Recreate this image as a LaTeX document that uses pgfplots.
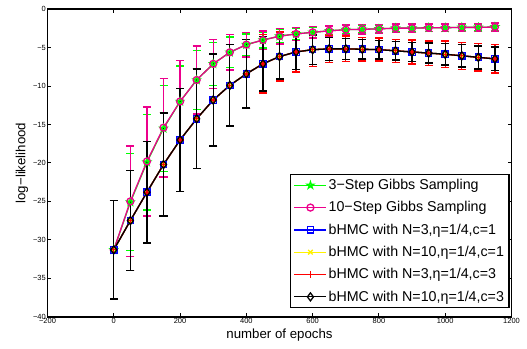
\documentclass[border=0pt]{standalone}
\usepackage{pgfplots}
\pgfplotsset{compat=1.18}
\usepackage{pgfplotstable}
\usepackage{fontspec}
\setmainfont{Liberation Sans}

\pgfdeclareplotmark{pentagram}{%
 \pgfpathmoveto{\pgfpointpolar{90}{\pgfplotmarksize}}%
 \pgfpathlineto{\pgfpointpolar{126}{0.382\pgfplotmarksize}}%
 \pgfpathlineto{\pgfpointpolar{162}{\pgfplotmarksize}}%
 \pgfpathlineto{\pgfpointpolar{198}{0.382\pgfplotmarksize}}%
 \pgfpathlineto{\pgfpointpolar{234}{\pgfplotmarksize}}%
 \pgfpathlineto{\pgfpointpolar{270}{0.382\pgfplotmarksize}}%
 \pgfpathlineto{\pgfpointpolar{306}{\pgfplotmarksize}}%
 \pgfpathlineto{\pgfpointpolar{342}{0.382\pgfplotmarksize}}%
 \pgfpathlineto{\pgfpointpolar{18}{\pgfplotmarksize}}%
 \pgfpathlineto{\pgfpointpolar{54}{0.382\pgfplotmarksize}}%
 \pgfpathclose
 \pgfusepathqstroke
}

\pgfplotstableread{
x g3 g3e g10 g10e
0 -31.3 0 -31.3 0
50 -25.1 6.3 -25.0 7.2
100 -19.9 6.2 -19.8 7.1
150 -15.5 5.6 -15.4 6.4
200 -12.0 4.6 -12.0 5.3
250 -9.2 3.8 -9.2 4.4
300 -7.1 2.8 -7.1 3.2
350 -5.6 2.0 -5.6 2.3
400 -4.6 1.4 -4.6 1.6
450 -4.0 1.05 -4.0 1.2
500 -3.5 0.9 -3.5 1.0
550 -3.2 0.75 -3.2 0.85
600 -3.0 0.65 -3.0 0.75
650 -2.8 0.6 -2.8 0.65
700 -2.65 0.55 -2.65 0.6
750 -2.6 0.5 -2.6 0.6
800 -2.55 0.5 -2.55 0.55
850 -2.45 0.5 -2.45 0.55
900 -2.45 0.45 -2.45 0.55
950 -2.4 0.45 -2.4 0.5
1000 -2.4 0.45 -2.4 0.5
1050 -2.35 0.45 -2.35 0.5
1100 -2.35 0.45 -2.35 0.5
1150 -2.3 0.45 -2.3 0.5
}\gibbs

\pgfplotstableread{
x b1 b1e b2 b2e b3 b3e b4 b4e
0 -31.3 6.4 -31.3 6.4 -31.3 6.4 -31.3 6.4
50 -27.5 6.5 -27.5 6.5 -27.5 6.5 -27.5 6.5
100 -23.8 6.6 -23.8 6.6 -23.8 6.6 -23.8 6.6
150 -20.2 6.7 -20.2 6.7 -20.2 6.7 -20.2 6.7
200 -17.0 6.7 -17.0 6.7 -17.0 6.7 -17.0 6.7
250 -14.25 6.5 -14.25 6.5 -14.25 6.5 -14.25 6.5
300 -11.8 6.0 -11.8 6.0 -11.8 6.0 -11.8 6.0
350 -9.9 5.3 -9.9 5.3 -9.9 5.3 -9.9 5.3
400 -8.4 4.45 -8.4 4.45 -8.4 4.5 -8.4 4.45
450 -7.1 3.55 -7.1 3.55 -7.1 3.8 -7.1 3.55
500 -6.15 2.9 -6.15 2.9 -6.15 3.2 -6.15 2.9
550 -5.55 2.3 -5.55 2.3 -5.55 2.6 -5.55 2.3
600 -5.25 1.9 -5.25 1.9 -5.25 2.2 -5.25 1.9
650 -5.15 1.5 -5.15 1.5 -5.15 1.8 -5.15 1.5
700 -5.15 1.35 -5.15 1.35 -5.15 1.65 -5.15 1.35
750 -5.2 1.25 -5.2 1.25 -5.2 1.55 -5.2 1.25
800 -5.25 1.2 -5.25 1.2 -5.25 1.5 -5.25 1.2
850 -5.4 1.2 -5.4 1.2 -5.4 1.5 -5.4 1.2
900 -5.55 1.25 -5.55 1.25 -5.55 1.55 -5.55 1.25
950 -5.7 1.3 -5.7 1.3 -5.7 1.6 -5.7 1.3
1000 -5.85 1.4 -5.85 1.4 -5.85 1.7 -5.85 1.4
1050 -6.05 1.45 -6.05 1.45 -6.05 1.75 -6.05 1.45
1100 -6.25 1.5 -6.25 1.5 -6.25 1.8 -6.25 1.5
1150 -6.45 1.55 -6.45 1.55 -6.45 1.85 -6.45 1.55
}\bhmc

\pgfplotsset{
  myerr/.style={error bars/.cd, y dir=both, y explicit,
    error bar style={line width=1.4bp, solid},
    error mark options={rotate=90, mark size=4bp, line width=1.4bp, solid}},
}

\begin{document}
\begin{tikzpicture}
\begin{axis}[
  scale only axis,
  width=464bp, height=307.4bp,
  xmin=-200, xmax=1200, ymin=-40, ymax=0,
  xtick={-200,0,200,400,600,800,1000,1200},
  xticklabels={−200,0,200,400,600,800,1000,1200},
  ytick={-40,-35,-30,-25,-20,-15,-10,-5,0},
  yticklabels={−40,−35,−30,−25,−20,−15,−10,−5,0},
  tick align=inside, tick pos=both,
  major tick length=4bp,
  tick style={line width=1bp, black},
  axis line style={line width=1.6bp},
  ticklabel style={font=\fontsize{7.5}{8}\selectfont, inner sep=1.5bp},
  label style={font=\fontsize{13.3}{15}\selectfont},
  xlabel={number of epochs},
  ylabel={log−likelihood},
  legend cell align=left,
  legend style={at={(0.996,0.027)}, anchor=south east, draw=black,
    line width=1.3bp, font=\fontsize{14.3}{16}\selectfont, row sep=7.5bp,
    inner sep=3.5bp,
    nodes={inner sep=1.5bp}},
  legend image code/.code={%
    \draw[mark repeat=2,mark phase=2] plot coordinates {(0bp,0bp) (16bp,0bp) (32bp,0bp)};},
  every axis plot/.append style={line width=1.3bp},
]
\addplot[color=green, mark=pentagram, mark size=3.5bp, mark options={solid}, myerr]
  table[x=x, y=g3, y error=g3e] {\gibbs};
\addlegendentry{3−Step Gibbs Sampling}
\addplot[color=magenta, mark=o, mark size=3.5bp, mark options={solid}, myerr]
  table[x=x, y=g10, y error=g10e] {\gibbs};
\addlegendentry{10−Step Gibbs Sampling}
\addplot[color=blue, mark=square, mark size=3.2bp, mark options={solid}, myerr]
  table[x=x, y=b1, y error=b1e] {\bhmc};
\addlegendentry{bHMC with N=3,η=1/4,c=1}
\addplot[color=yellow, mark=x, mark size=3.2bp, mark options={solid}, myerr]
  table[x=x, y=b2, y error=b2e] {\bhmc};
\addlegendentry{bHMC with N=10,η=1/4,c=1}
\addplot[color=red, mark=+, mark size=3.5bp, mark options={solid}, myerr]
  table[x=x, y=b3, y error=b3e] {\bhmc};
\addlegendentry{bHMC with N=3,η=1/4,c=3}
\addplot[color=black, mark=diamond, mark size=4bp, mark options={solid}, myerr]
  table[x=x, y=b4, y error=b4e] {\bhmc};
\addlegendentry{bHMC with N=10,η=1/4,c=3}
\end{axis}
\path ([xshift=-47.5bp,yshift=-32.3bp]current axis.south west)
   -- ([xshift=15.5bp,yshift=9.3bp]current axis.north east);
\end{tikzpicture}
\end{document}
